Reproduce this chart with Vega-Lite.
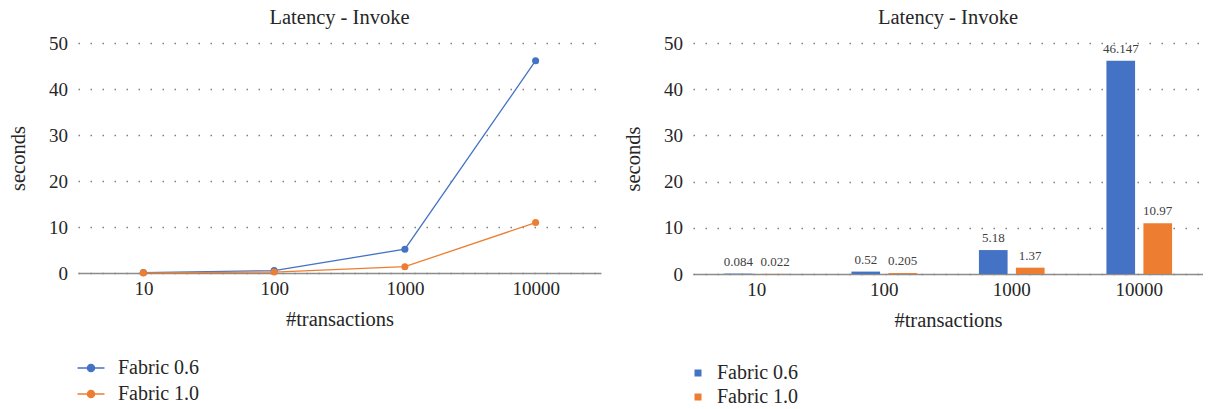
{
  "$schema": "https://vega.github.io/schema/vega-lite/v6.json",
  "padding": {"left": 8, "top": 7, "right": 0, "bottom": 0},
  "spacing": 22,
  "datasets": {
    "latency": [
      {"tx": "10", "series": "Fabric 0.6", "seconds": 0.084},
      {"tx": "100", "series": "Fabric 0.6", "seconds": 0.52},
      {"tx": "1000", "series": "Fabric 0.6", "seconds": 5.18},
      {"tx": "10000", "series": "Fabric 0.6", "seconds": 46.147},
      {"tx": "10", "series": "Fabric 1.0", "seconds": 0.022},
      {"tx": "100", "series": "Fabric 1.0", "seconds": 0.205},
      {"tx": "1000", "series": "Fabric 1.0", "seconds": 1.37},
      {"tx": "10000", "series": "Fabric 1.0", "seconds": 10.97}
    ]
  },
  "hconcat": [
    {
      "width": 523,
      "height": 230,
      "title": {"text": "Latency - Invoke"},
      "data": {"name": "latency"},
      "encoding": {
        "x": {"field": "tx", "type": "ordinal", "sort": ["10", "100", "1000", "10000"], "scale": {"type": "point", "padding": 0.5}, "axis": {"title": "#transactions"}},
        "y": {"field": "seconds", "type": "quantitative", "scale": {"domain": [0, 50], "nice": false}, "axis": {"values": [0, 10, 20, 30, 40, 50], "title": "seconds"}},
        "color": {
          "field": "series", "type": "nominal",
          "scale": {"domain": ["Fabric 0.6", "Fabric 1.0"], "range": ["#4472C4", "#ED7D31"]},
          "legend": {
            "title": null, "orient": "none", "legendX": 3, "legendY": 315,
            "symbolType": "M-1.5,0L1.5,0M0.4,0A0.4,0.4,0,1,1,-0.4,0A0.4,0.4,0,1,1,0.4,0Z",
            "symbolSize": 324, "symbolStrokeWidth": 1.3, "labelOffset": 17, "rowPadding": 6,
            "encode": {"symbols": {"update": {
              "fill": [{"test": "datum.value === 'Fabric 0.6'", "value": "#4472C4"}, {"value": "#ED7D31"}],
              "stroke": [{"test": "datum.value === 'Fabric 0.6'", "value": "#4472C4"}, {"value": "#ED7D31"}],
              "opacity": {"value": 1}
            }}}
          }
        }
      },
      "layer": [
        {"mark": {"type": "line", "strokeWidth": 1.3}},
        {"mark": {"type": "point", "filled": true, "size": 50, "opacity": 1}}
      ]
    },
    {
      "width": 510,
      "height": 231,
      "title": {"text": "Latency - Invoke"},
      "data": {"name": "latency"},
      "encoding": {
        "x": {"field": "tx", "type": "ordinal", "sort": ["10", "100", "1000", "10000"], "scale": {"paddingInner": 0.485, "paddingOuter": 0.2425}, "axis": {"title": "#transactions"}},
        "xOffset": {"field": "series", "type": "nominal", "scale": {"paddingInner": 0.225, "paddingOuter": 0}},
        "y": {"field": "seconds", "type": "quantitative", "scale": {"domain": [0, 50], "nice": false}, "axis": {"values": [0, 10, 20, 30, 40, 50], "title": "seconds"}}
      },
      "layer": [
        {
          "mark": {"type": "bar"},
          "encoding": {
            "color": {
              "field": "series", "type": "nominal",
              "scale": {"domain": ["Fabric 0.6", "Fabric 1.0"], "range": ["#4472C4", "#ED7D31"]},
              "legend": {"title": null, "orient": "none", "legendX": -5, "legendY": 320, "symbolType": "square", "symbolSize": 49, "labelOffset": 9, "rowPadding": 4}
            }
          }
        },
        {
          "mark": {"type": "text", "dy": -5, "baseline": "bottom", "fontSize": 13, "color": "#404040"},
          "encoding": {"text": {"field": "seconds", "type": "quantitative"}}
        }
      ]
    }
  ],
  "resolve": {
    "scale": {"color": "independent", "x": "independent", "y": "independent"},
    "legend": {"color": "independent"}
  },
  "config": {
    "font": "'Liberation Serif', 'Times New Roman', 'DejaVu Serif', serif",
    "view": {"stroke": null},
    "text": {"font": "'Liberation Serif', 'Times New Roman', 'DejaVu Serif', serif"},
    "title": {"font": "'Liberation Serif', 'Times New Roman', 'DejaVu Serif', serif", "fontSize": 20.5, "fontWeight": "normal", "color": "#262626", "offset": 6},
    "axis": {
      "labelFont": "'Liberation Serif', 'Times New Roman', 'DejaVu Serif', serif", "titleFont": "'Liberation Serif', 'Times New Roman', 'DejaVu Serif', serif",
      "labelFontSize": 19, "titleFontSize": 20.5, "titleFontWeight": "normal",
      "labelColor": "#262626", "titleColor": "#262626",
      "ticks": false, "tickSize": 0
    },
    "axisY": {"domain": false, "grid": true, "gridDash": [1.5, 10.5], "gridColor": "#808080", "gridWidth": 1.5, "labelPadding": 10.6, "titlePadding": 20},
    "axisX": {"domain": true, "domainColor": "#8c8c8c", "domainWidth": 1.5, "grid": false, "labelAngle": 0, "labelPadding": 6, "titlePadding": 11},
    "legend": {"labelFont": "'Liberation Serif', 'Times New Roman', 'DejaVu Serif', serif", "labelFontSize": 20, "labelColor": "#262626", "padding": 0}
  }
}
